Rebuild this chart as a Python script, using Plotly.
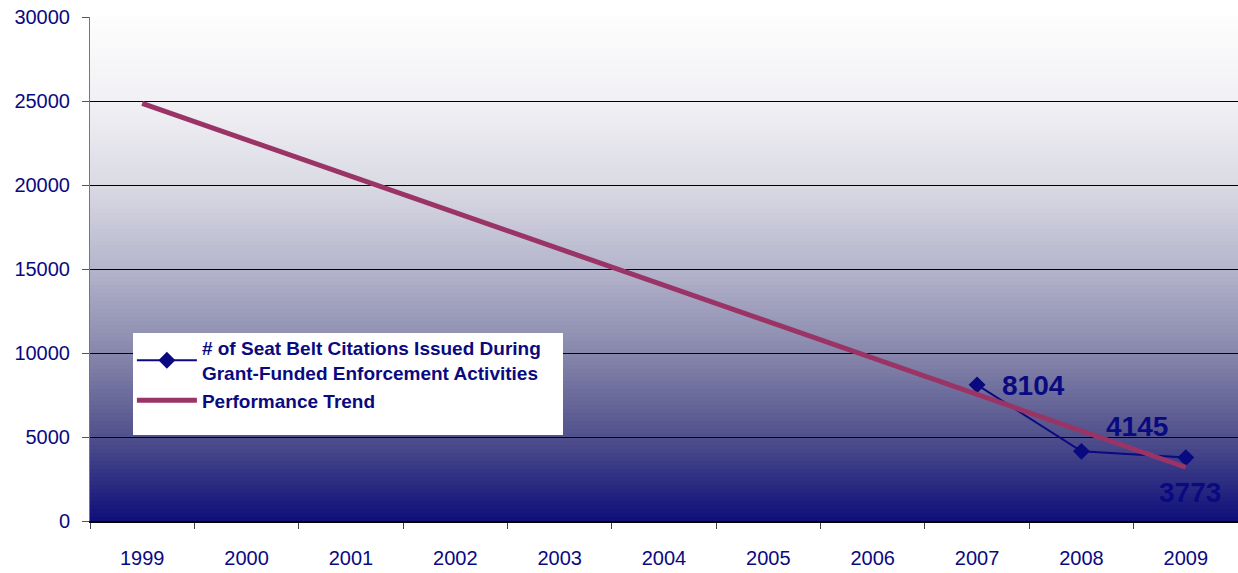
import plotly.graph_objects as go
import numpy as np

years = ["1999", "2000", "2001", "2002", "2003", "2004", "2005", "2006", "2007", "2008", "2009"]
cite_years = ["2007", "2008", "2009"]
citations = [8104, 4145, 3773]
trend_years = ["1999", "2009"]
trend_values = [24860, 3200]
y_ticks = [0, 5000, 10000, 15000, 20000, 25000, 30000]

NAVY = "#0a0a80"
TREND = "#9b3466"
FONT = "Arial, Liberation Sans, sans-serif"

fig = go.Figure()

fig.add_trace(go.Scatter(
    x=cite_years, y=citations, mode="lines+markers",
    name="# of Seat Belt Citations Issued During<br>Grant-Funded Enforcement Activities",
    line=dict(color=NAVY, width=2),
    marker=dict(symbol="diamond", size=13, color=NAVY),
))
fig.add_trace(go.Scatter(
    x=trend_years, y=trend_values, mode="lines",
    name="Performance Trend",
    line=dict(color=TREND, width=5),
))

# value labels beside the data points (pixel offsets from each point)
label_offsets = [(23, -1, "left", "middle"), (56, 25, "center", "middle"), (4, -35, "center", "middle")]
annotations = []
for yr, v, (dx, dy, xa, ya) in zip(cite_years, citations, label_offsets):
    annotations.append(dict(
        x=years.index(yr), y=v, xref="x", yref="y",
        text="<b>%d</b>" % v, showarrow=False,
        xshift=dx, yshift=dy, xanchor=xa, yanchor=ya,
        font=dict(family=FONT, size=28, color=NAVY),
    ))

# vertical gradient background of the plot area
stops_pos = [0.0, 0.1667, 0.3333, 0.5, 0.6667, 0.8333, 1.0]
stops_rgb = np.array([
    [14, 14, 122],
    [80, 80, 140],
    [135, 135, 172],
    [180, 180, 204],
    [218, 218, 228],
    [241, 241, 245],
    [253, 253, 253],
])
n = 126
shapes = []
for i in range(n):
    y0 = i / n
    y1 = (i + 1) / n
    c = [np.interp((y0 + y1) / 2, stops_pos, stops_rgb[:, k]) for k in range(3)]
    col = "rgb(%d,%d,%d)" % tuple(int(round(v)) for v in c)
    shapes.append(dict(type="rect", xref="x domain", yref="y domain",
                       x0=0, x1=1, y0=y0, y1=y1 + 0.002, layer="below",
                       line=dict(width=0), fillcolor=col))

# white panel behind the legend
shapes.append(dict(type="rect", xref="paper", yref="paper",
                   x0=(133 - 90) / 1148, x1=(563 - 90) / 1148,
                   y0=(521 - 435) / 504, y1=(521 - 333) / 504,
                   layer="above", line=dict(width=0), fillcolor="white"))

fig.update_layout(
    width=1238, height=573,
    margin=dict(l=90, r=0, t=17, b=52),
    paper_bgcolor="white", plot_bgcolor="white",
    font=dict(family=FONT, size=19, color=NAVY),
    showlegend=True,
    shapes=shapes,
    annotations=annotations,
    legend=dict(
        x=0.0365, y=0.381, xanchor="left", yanchor="top",
        bgcolor="rgba(0,0,0,0)", borderwidth=0,
        font=dict(family=FONT, size=19, color=NAVY, weight="bold"),
        itemwidth=60, tracegroupgap=0,
    ),
    xaxis=dict(
        type="category", categoryorder="array", categoryarray=years,
        range=[-0.5, 10.5], tickson="boundaries",
        ticks="outside", ticklen=6, tickcolor="#444444",
        showline=True, linecolor="#000000", linewidth=2,
        showgrid=False, tickfont=dict(size=20, color=NAVY),
        ticklabelstandoff=18,
    ),
    yaxis=dict(
        range=[0, 30000], tickvals=y_ticks, tickformat="d",
        ticks="outside", ticklen=7, tickcolor="#555555",
        showline=True, linecolor="#777777", linewidth=1,
        showgrid=True, gridcolor="#000000", gridwidth=1,
        zeroline=False, tickfont=dict(size=20, color=NAVY),
        ticklabelstandoff=8,
    ),
)

fig.write_html("out.html")
